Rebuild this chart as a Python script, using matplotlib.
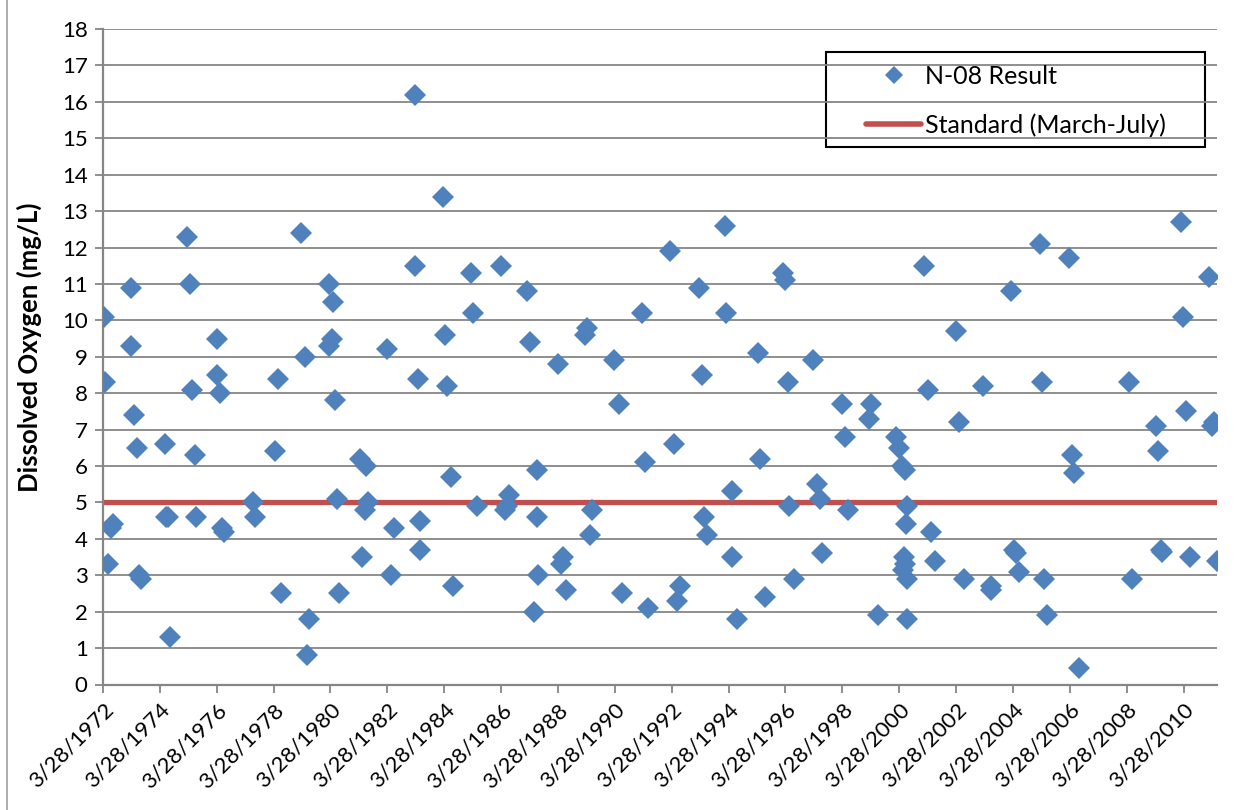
import matplotlib
matplotlib.use("Agg")
import matplotlib.pyplot as plt
from matplotlib.lines import Line2D
from matplotlib.patches import Rectangle
import pandas as pd

# ---------------------------------------------------------------------------
# Datos (fecha como ano decimal, OD en mg/L)
# ---------------------------------------------------------------------------
sample_year = [
    1972.26, 1972.32, 1972.40, 1972.52, 1972.60,
    1973.23, 1973.23, 1973.34, 1973.44, 1973.50, 1973.58,
    1974.40, 1974.44, 1974.52, 1974.60,
    1975.20, 1975.28, 1975.36, 1975.47, 1975.52,
    1976.26, 1976.26, 1976.36, 1976.43, 1976.51,
    1977.51, 1977.57,
    1978.27, 1978.38, 1978.48,
    1979.20, 1979.33, 1979.41, 1979.48,
    1980.20, 1980.20, 1980.30, 1980.33, 1980.39, 1980.48, 1980.52,
    1981.27, 1981.35, 1981.44, 1981.48, 1981.56,
    1982.23, 1982.38, 1982.46,
    1983.20, 1983.20, 1983.32, 1983.40, 1983.40,
    1984.20, 1984.26, 1984.35, 1984.46, 1984.54,
    1985.17, 1985.26, 1985.38,
    1986.22, 1986.38, 1986.45, 1986.52,
    1987.16, 1987.25, 1987.40, 1987.49, 1987.51, 1987.54,
    1988.24, 1988.34, 1988.42, 1988.52,
    1989.17, 1989.25, 1989.37, 1989.44,
    1990.21, 1990.38, 1990.48,
    1991.20, 1991.31, 1991.40,
    1992.18, 1992.33, 1992.44, 1992.53,
    1993.18, 1993.30, 1993.38, 1993.47,
    1994.12, 1994.14, 1994.35, 1994.37, 1994.55,
    1995.26, 1995.35, 1995.52,
    1996.15, 1996.23, 1996.31, 1996.38, 1996.55,
    1997.20, 1997.34, 1997.46, 1997.53,
    1998.23, 1998.32, 1998.44,
    1999.16, 1999.26, 1999.48,
    2000.13, 2000.22, 2000.34, 2000.43, 2000.40, 2000.45, 2000.38,
    2000.50, 2000.49, 2000.52, 2000.52,
    2001.12, 2001.26, 2001.36, 2001.51,
    2002.23, 2002.33, 2002.51,
    2003.18, 2003.45, 2003.48,
    2004.18, 2004.28, 2004.33, 2004.45,
    2005.18, 2005.27, 2005.33, 2005.42,
    2006.20, 2006.33, 2006.38, 2006.56,
    2008.32, 2008.44,
    2009.26, 2009.34, 2009.46, 2009.47,
    2010.14, 2010.20, 2010.32, 2010.46,
    2011.14, 2011.23, 2011.31, 2011.40,
]

do_mgl = [
    10.1, 8.3, 3.3, 4.3, 4.4,
    10.9, 9.3, 7.4, 6.5, 3.0, 2.9,
    6.6, 4.6, 4.6, 1.3,
    12.3, 11.0, 8.1, 6.3, 4.6,
    9.5, 8.5, 8.0, 4.3, 4.2,
    5.0, 4.6,
    6.4, 8.4, 2.5,
    12.4, 9.0, 0.8, 1.8,
    11.0, 9.3, 9.5, 10.5, 7.8, 5.1, 2.5,
    6.2, 3.5, 4.8, 6.0, 5.0,
    9.2, 3.0, 4.3,
    16.2, 11.5, 8.4, 4.5, 3.7,
    13.4, 9.6, 8.2, 5.7, 2.7,
    11.3, 10.2, 4.9,
    11.5, 4.8, 4.9, 5.2,
    10.8, 9.4, 2.0, 5.9, 4.6, 3.0,
    8.8, 3.3, 3.5, 2.6,
    9.6, 9.8, 4.1, 4.8,
    8.9, 7.7, 2.5,
    10.2, 6.1, 2.1,
    11.9, 6.6, 2.3, 2.7,
    10.9, 8.5, 4.6, 4.1,
    12.6, 10.2, 5.3, 3.5, 1.8,
    9.1, 6.2, 2.4,
    11.3, 11.1, 8.3, 4.9, 2.9,
    8.9, 5.5, 5.1, 3.6,
    7.7, 6.8, 4.8,
    7.3, 7.7, 1.9,
    6.8, 6.5, 6.0, 5.9, 3.5, 3.3, 3.15,
    2.9, 4.4, 4.9, 1.8,
    11.5, 8.1, 4.2, 3.4,
    9.7, 7.2, 2.9,
    8.2, 2.7, 2.6,
    10.8, 3.7, 3.6, 3.1,
    12.1, 8.3, 2.9, 1.9,
    11.7, 6.3, 5.8, 0.45,
    8.3, 2.9,
    7.1, 6.4, 3.7, 3.65,
    12.7, 10.1, 7.5, 3.5,
    11.2, 7.1, 7.2, 3.4,
]

standard_mgl = 5.0
tick_years = list(range(1972, 2011, 2))
x_start = "1972-03-28"
x_end = "2011-06-01"


def _to_date(y):
    """Ano decimal -> Timestamp."""
    base = int(y)
    return pd.Timestamp(year=base, month=1, day=1) + pd.Timedelta(days=(y - base) * 365.25)


dates = [_to_date(y) for y in sample_year]
tick_dates = [pd.Timestamp(year=y, month=3, day=28) for y in tick_years]
tick_labels = [f"3/28/{y}" for y in tick_years]

# ---------------------------------------------------------------------------
# Figura
# ---------------------------------------------------------------------------
plt.rcParams["font.family"] = ["Lato", "DejaVu Sans"]

blue = "#4F81BD"
red = "#C0504D"
grid_gray = "#868686"

W, H = 1253, 810
fig = plt.figure(figsize=(W / 100, H / 100), dpi=100)
ax = fig.add_axes([103 / W, 1 - 684.5 / H, (1217 - 103) / W, (684.5 - 29) / H])

xmin, xmax = pd.Timestamp(x_start), pd.Timestamp(x_end)

ax.plot([xmin, xmax], [standard_mgl, standard_mgl], color=red, linewidth=3.8,
        solid_capstyle="butt", zorder=2)
ax.plot(dates, do_mgl, linestyle="none", marker="D", markersize=11.5,
        color=blue, markeredgewidth=0, zorder=3)

ax.set_xlim(xmin, xmax)
ax.set_ylim(0, 18)
ax.set_yticks(range(0, 19))
ax.set_xticks(tick_dates)
ax.set_xticklabels(tick_labels, rotation=45, ha="right", rotation_mode="anchor")

ax.yaxis.grid(True, color=grid_gray, linewidth=1.3)
ax.set_axisbelow(True)
for side in ("top", "right"):
    ax.spines[side].set_visible(False)
for side in ("left", "bottom"):
    ax.spines[side].set_color(grid_gray)
    ax.spines[side].set_linewidth(1.6)

ax.tick_params(axis="both", colors=grid_gray, length=6, width=1.3, labelcolor="black",
               labelsize=16)
ax.tick_params(axis="x", pad=5)
ax.tick_params(axis="y", pad=5)

# el punto de anclaje del rotulo girado es su borde derecho
ax.set_ylabel("Dissolved Oxygen (mg/L)", fontsize=18.5, fontweight="bold")
ax.yaxis.set_label_coords((42 - 103) / 1114, 0.515)

# leyenda: caja dibujada a mano para reproducir el margen derecho
handles = [
    Line2D([], [], linestyle="none", marker="D", markersize=9.5, color=blue,
           markeredgewidth=0),
    Line2D([], [], color=red, linewidth=4, solid_capstyle="round"),
]
ax.legend(handles, ["N-08 Result", "Standard (March-July)"],
          loc="upper left", bbox_to_anchor=(866 / W, 1 - 65 / H),
          bbox_transform=fig.transFigure,
          frameon=False, fontsize=18, borderpad=0, labelspacing=1.0,
          handlelength=2.2, handletextpad=0.15, borderaxespad=0)
fig.add_artist(Rectangle((826 / W, 1 - 147 / H), (1205 - 826) / W, (147 - 52) / H,
                         transform=fig.transFigure, facecolor="white",
                         edgecolor="black", linewidth=1.5, zorder=1))
ax.set_zorder(2)
ax.patch.set_alpha(0)

# borde del area del grafico (lado izquierdo visible)
fig.add_artist(Line2D([7 / W, 7 / W], [0, 1], color="#A0A0A0", linewidth=1.2,
                      transform=fig.transFigure))

fig.savefig("out.png", dpi=100)
